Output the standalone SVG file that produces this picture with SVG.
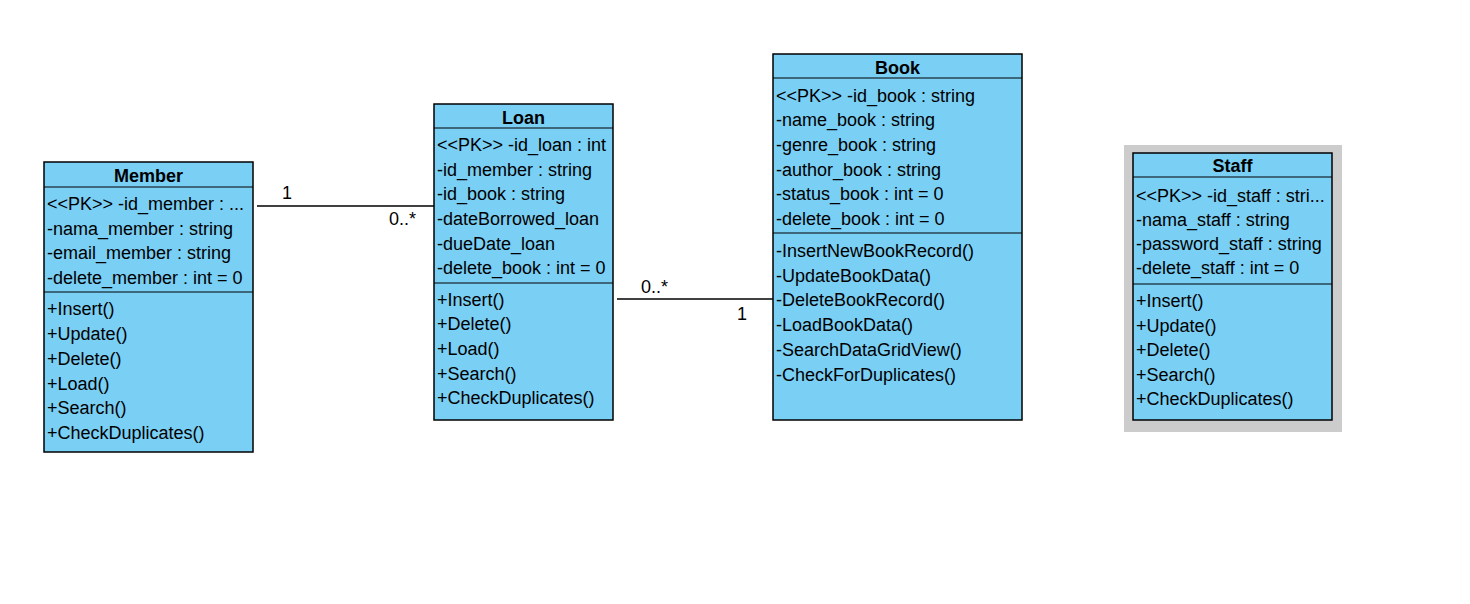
<svg xmlns="http://www.w3.org/2000/svg" width="1470" height="604" viewBox="0 0 1470 604">
<style>
.box{fill:#7ACFF5;stroke:#000;stroke-width:1.5}
.sep{stroke:#000;stroke-width:1.2}
.t{font-family:"Liberation Sans",Arial,sans-serif;font-size:18px;fill:#000}
.h{font-family:"Liberation Sans",Arial,sans-serif;font-size:18px;font-weight:bold;fill:#000;text-anchor:middle}
.conn{stroke:#000;stroke-width:1.5;fill:none}
</style>
<rect width="1470" height="604" fill="#fff"/>
<g id="connectors">
<line class="conn" x1="257" y1="206" x2="434" y2="206"/>
<line class="conn" x1="617" y1="299" x2="773" y2="299"/>
<text class="t" x="282" y="199">1</text>
<text class="t" x="389" y="225">0..*</text>
<text class="t" x="641" y="293">0..*</text>
<text class="t" x="737" y="320">1</text>
</g>
<g id="Member">
<rect class="box" x="44" y="162" width="209" height="290"/>
<line class="sep" x1="44" y1="187" x2="253" y2="187"/>
<line class="sep" x1="44" y1="292" x2="253" y2="292"/>
<text class="h" x="148.5" y="182">Member</text>
<text class="t" x="47" y="210">&lt;&lt;PK&gt;&gt; -id_member : ...</text>
<text class="t" x="47" y="235">-nama_member : string</text>
<text class="t" x="47" y="259">-email_member : string</text>
<text class="t" x="47" y="284">-delete_member : int = 0</text>
<text class="t" x="47" y="315">+Insert()</text>
<text class="t" x="47" y="340">+Update()</text>
<text class="t" x="47" y="365">+Delete()</text>
<text class="t" x="47" y="390">+Load()</text>
<text class="t" x="47" y="414">+Search()</text>
<text class="t" x="47" y="439">+CheckDuplicates()</text>
</g>
<g id="Loan">
<rect class="box" x="434" y="104" width="179" height="316"/>
<line class="sep" x1="434" y1="128" x2="613" y2="128"/>
<line class="sep" x1="434" y1="283" x2="613" y2="283"/>
<text class="h" x="523.5" y="124">Loan</text>
<text class="t" x="437" y="151">&lt;&lt;PK&gt;&gt; -id_loan : int</text>
<text class="t" x="437" y="176">-id_member : string</text>
<text class="t" x="437" y="200">-id_book : string</text>
<text class="t" x="437" y="225">-dateBorrowed_loan</text>
<text class="t" x="437" y="250">-dueDate_loan</text>
<text class="t" x="437" y="274">-delete_book : int = 0</text>
<text class="t" x="437" y="306">+Insert()</text>
<text class="t" x="437" y="330">+Delete()</text>
<text class="t" x="437" y="355">+Load()</text>
<text class="t" x="437" y="380">+Search()</text>
<text class="t" x="437" y="404">+CheckDuplicates()</text>
</g>
<g id="Book">
<rect class="box" x="773" y="54" width="249" height="366"/>
<line class="sep" x1="773" y1="78" x2="1022" y2="78"/>
<line class="sep" x1="773" y1="233" x2="1022" y2="233"/>
<text class="h" x="897.5" y="74">Book</text>
<text class="t" x="776" y="102">&lt;&lt;PK&gt;&gt; -id_book : string</text>
<text class="t" x="776" y="126">-name_book : string</text>
<text class="t" x="776" y="151">-genre_book : string</text>
<text class="t" x="776" y="176">-author_book : string</text>
<text class="t" x="776" y="200">-status_book : int = 0</text>
<text class="t" x="776" y="225">-delete_book : int = 0</text>
<text class="t" x="776" y="257">-InsertNewBookRecord()</text>
<text class="t" x="776" y="282">-UpdateBookData()</text>
<text class="t" x="776" y="306">-DeleteBookRecord()</text>
<text class="t" x="776" y="331">-LoadBookData()</text>
<text class="t" x="776" y="356">-SearchDataGridView()</text>
<text class="t" x="776" y="381">-CheckForDuplicates()</text>
</g>
<g id="Staff">
<rect x="1124" y="145" width="218" height="287" fill="#CCCCCC"/>
<rect class="box" x="1133" y="153" width="199" height="267"/>
<line class="sep" x1="1133" y1="177" x2="1332" y2="177"/>
<line class="sep" x1="1133" y1="284" x2="1332" y2="284"/>
<text class="h" x="1232.5" y="172">Staff</text>
<text class="t" x="1136" y="202">&lt;&lt;PK&gt;&gt; -id_staff : stri...</text>
<text class="t" x="1136" y="226">-nama_staff : string</text>
<text class="t" x="1136" y="250">-password_staff : string</text>
<text class="t" x="1136" y="274">-delete_staff : int = 0</text>
<text class="t" x="1136" y="307">+Insert()</text>
<text class="t" x="1136" y="332">+Update()</text>
<text class="t" x="1136" y="356">+Delete()</text>
<text class="t" x="1136" y="381">+Search()</text>
<text class="t" x="1136" y="405">+CheckDuplicates()</text>
</g>
</svg>
